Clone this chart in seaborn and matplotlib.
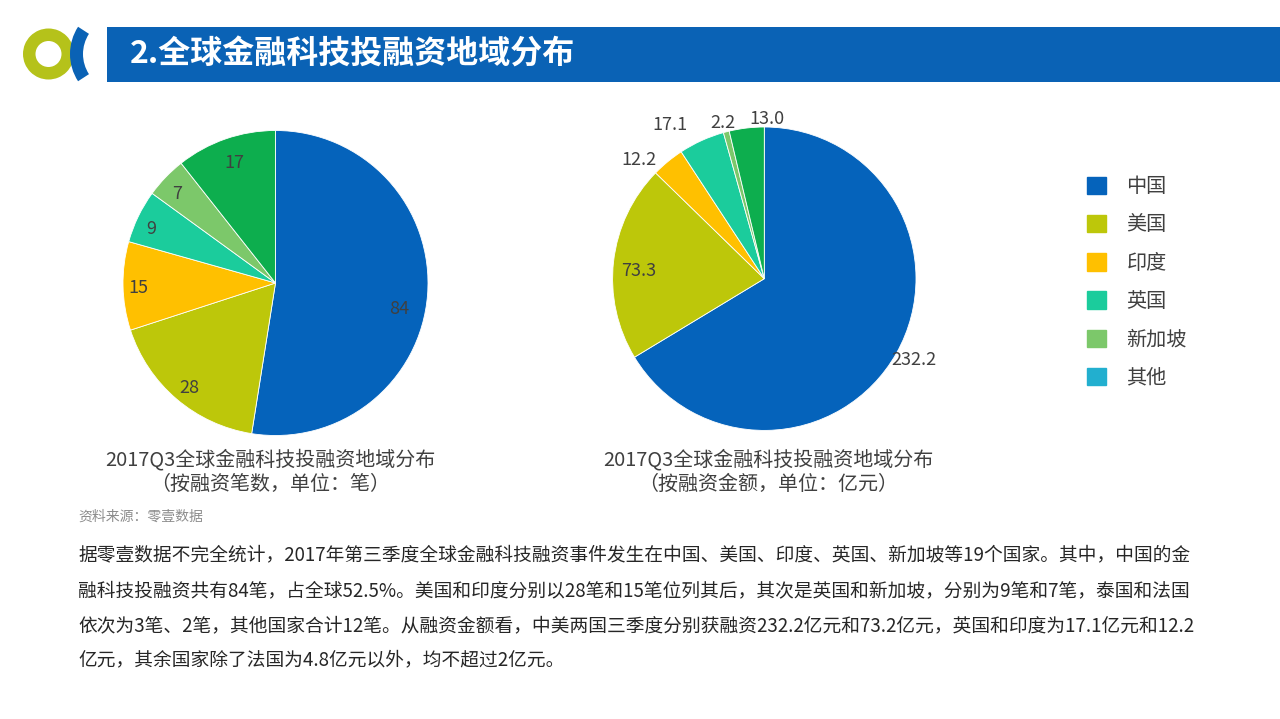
import matplotlib
matplotlib.use("Agg")
import matplotlib.pyplot as plt
import matplotlib.patches as mpatches
import numpy as np
import seaborn as sns

# data
regions = ["中国", "美国", "印度", "英国", "新加坡", "其他"]
deal_counts = [84, 28, 15, 9, 7, 17]
deal_amounts = [232.2, 73.3, 12.2, 17.1, 2.2, 13.0]

title = "2.全球金融科技投融资地域分布"
caption_left = ["2017Q3全球金融科技投融资地域分布", "（按融资笔数，单位：笔）"]
caption_right = ["2017Q3全球金融科技投融资地域分布", "（按融资金额，单位：亿元）"]
source = "资料来源：零壹数据"
paragraph = [
    "据零壹数据不完全统计，2017年第三季度全球金融科技融资事件发生在中国、美国、印度、英国、新加坡等19个国家。其中，中国的金",
    "融科技投融资共有84笔，占全球52.5%。美国和印度分别以28笔和15笔位列其后，其次是英国和新加坡，分别为9笔和7笔，泰国和法国",
    "依次为3笔、2笔，其他国家合计12笔。从融资金额看，中美两国三季度分别获融资232.2亿元和73.2亿元，英国和印度为17.1亿元和12.2",
    "亿元，其余国家除了法国为4.8亿元以外，均不超过2亿元。",
]

# styles
slice_colors = ["#0563BB", "#BDC70A", "#FFC000", "#1BCC9C", "#7CC86A", "#0DAE4E"]
legend_colors = ["#0563BB", "#BDC70A", "#FFC000", "#1BCC9C", "#7CC86A", "#22AFCF"]
header_blue = "#0A62B5"
text_dark = "#404040"

sns.set_theme(style="white")
plt.rcParams["font.family"] = ["Noto Sans CJK SC", "DejaVu Sans"]

W, H = 1280, 719
fig = plt.figure(figsize=(12.8, 7.19), dpi=100)
fig.patch.set_facecolor("white")

# pixel-space overlay for header, logo and text
bg = fig.add_axes([0, 0, 1, 1])
bg.set_xlim(0, W)
bg.set_ylim(H, 0)
bg.axis("off")

bg.add_patch(mpatches.Rectangle((107, 27), W - 107, 55, color=header_blue, lw=0))
bg.text(130, 55, title, color="white", fontsize=23, fontweight="bold",
        ha="left", va="center")

# logo: yellow-green ring + blue arc
bg.add_patch(mpatches.Annulus((48.5, 54), 25.5, 12.5, color="#B5C21A", lw=0))
bg.add_patch(mpatches.Wedge((120, 54), 50, 147, 213, width=13, color=header_blue, lw=0))


def draw_pie(cx, cy, r, values, fmt, dists, offsets):
    ax = fig.add_axes([(cx - r) / W, 1 - (cy + r) / H, 2 * r / W, 2 * r / H])
    wedges, _ = ax.pie(values, colors=slice_colors, startangle=90, counterclock=False,
                       radius=1, wedgeprops=dict(edgecolor="white", linewidth=0.6))
    ax.set_xlim(-1, 1)
    ax.set_ylim(-1, 1)
    ax.axis("off")
    for w, v, d, off in zip(wedges, values, dists, offsets):
        ang = np.deg2rad((w.theta1 + w.theta2) / 2 + off)
        ax.text(d * np.cos(ang), d * np.sin(ang), fmt.format(v), ha="center", va="center",
                fontsize=13, color=text_dark)
    return ax


draw_pie(275.5, 283, 152.5, deal_counts, "{}",
         [0.83, 0.89, 0.9, 0.89, 0.87, 0.83], [-7.5, 1, 1, 2.5, 2, 0])
draw_pie(764.3, 278.7, 151.7, deal_amounts, "{:.1f}",
         [1.12, 0.83, 1.14, 1.19, 1.06, 1.05], [1, 3, 7, 7, 0.5, -7.5])

# legend
handles = [mpatches.Patch(color=c, label=l) for c, l in zip(legend_colors, regions)]
fig.legend(handles=handles, loc="upper left", bbox_to_anchor=(1069 / W, 1 - 158 / H),
           frameon=False, fontsize=14.5, handlelength=0.95, handleheight=0.95,
           handletextpad=1.0, labelspacing=0.86, labelcolor=text_dark)

# captions
for cx, lines in [(270.5, caption_left), (768, caption_right)]:
    bg.text(cx, 460, lines[0], ha="center", va="center", fontsize=14.4, color=text_dark)
    bg.text(cx, 484, lines[1], ha="center", va="center", fontsize=14.4, color=text_dark)

bg.text(78, 517, source, ha="left", va="center", fontsize=10, color="#8C8C8C")

for y, line in zip([555, 591, 626, 660], paragraph):
    bg.text(78, y, line, ha="left", va="center", fontsize=13.47, color="#262626")

fig.savefig("out.png", dpi=100, facecolor="white")
